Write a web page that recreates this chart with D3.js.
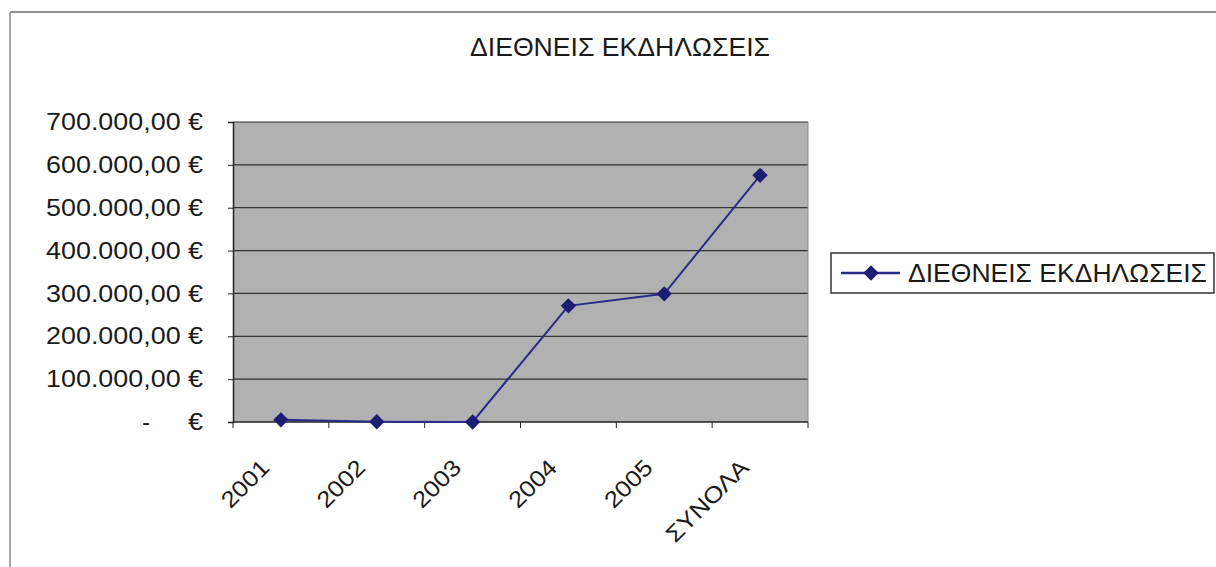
<!DOCTYPE html>
<html>
<head>
<meta charset="utf-8">
<script src="https://cdn.jsdelivr.net/npm/d3@7"></script>
<style>
  body { margin: 0; background: #fff; }
  svg { display: block; }
  text { font-family: "Liberation Sans", Arial, sans-serif; fill: #1a1a1a; }
</style>
</head>
<body>
<div id="chart"></div>
<script>
// data
var categories = ["2001", "2002", "2003", "2004", "2005", "ΣΥΝΟΛΑ"];
var values = [5000, 500, 0, 271000, 299000, 575500];
var yTicks = [0, 100000, 200000, 300000, 400000, 500000, 600000, 700000];
var seriesName = "ΔΙΕΘΝΕΙΣ ΕΚΔΗΛΩΣΕΙΣ";
var chartTitle = "ΔΙΕΘΝΕΙΣ ΕΚΔΗΛΩΣΕΙΣ";

var width = 1216, height = 567;
var plot = { left: 233, right: 808, top: 122, bottom: 422 };
var lineColor = "#2a2a8a", markerColor = "#1c1c72";

// scanned text looks a bit wider than plain Arial
var stretch = 1.12;
function widen(sel) {
    sel.each(function () {
        var len = this.getComputedTextLength();
        d3.select(this).attr("textLength", len * stretch).attr("lengthAdjust", "spacingAndGlyphs");
    });
}

var svg = d3.select("#chart").append("svg")
    .attr("width", width)
    .attr("height", height);

// outer chart frame (only top and left edges show)
svg.append("line").attr("x1", 10).attr("x2", width).attr("y1", 12).attr("y2", 12)
    .attr("stroke", "#6a6a6a").attr("stroke-width", 1.5);
svg.append("line").attr("x1", 10).attr("x2", 10).attr("y1", 12).attr("y2", height)
    .attr("stroke", "#8a8a8a").attr("stroke-width", 1.5);

var x = d3.scaleBand().domain(categories).range([plot.left, plot.right]);
var y = d3.scaleLinear().domain([0, 700000]).range([plot.bottom, plot.top]);

// grey plot area
svg.append("rect")
    .attr("x", plot.left).attr("y", plot.top)
    .attr("width", plot.right - plot.left).attr("height", plot.bottom - plot.top)
    .attr("fill", "#b1b1b1");

// horizontal gridlines
svg.append("g").selectAll("line").data(yTicks.slice(1)).enter().append("line")
    .attr("x1", plot.left).attr("x2", plot.right)
    .attr("y1", function (d) { return y(d); })
    .attr("y2", function (d) { return y(d); })
    .attr("stroke", "#333").attr("stroke-width", 1.2);

// right edge of plot
svg.append("line").attr("x1", plot.right).attr("x2", plot.right)
    .attr("y1", plot.top).attr("y2", plot.bottom)
    .attr("stroke", "#8c8c8c").attr("stroke-width", 1);

// y axis
var euro = d3.formatLocale({ decimal: ",", thousands: ".", grouping: [3], currency: ["", " €"] });
var fmt = euro.format("$,.2f");
var yAxis = svg.append("g")
    .attr("transform", "translate(" + plot.left + ",0)")
    .call(d3.axisLeft(y).tickValues(yTicks).tickSize(5).tickPadding(25)
        .tickFormat(function (d) { return d === 0 ? "" : fmt(d); }));
yAxis.select(".domain").attr("stroke", "#222").attr("stroke-width", 1.5);
yAxis.selectAll(".tick line").attr("stroke", "#222");
yAxis.selectAll(".tick text").style("font-size", "24px").attr("fill", "#1a1a1a").call(widen);
// accounting style zero: dash and euro sign apart
var zeroTick = yAxis.selectAll(".tick").filter(function (d) { return d === 0; });
zeroTick.append("text").attr("x", -30).attr("dy", "0.32em").attr("text-anchor", "end")
    .style("font-size", "24px").text("€").call(widen);
zeroTick.append("text").attr("x", -83).attr("dy", "0.32em").attr("text-anchor", "end")
    .style("font-size", "24px").text("-");

// x axis: ticks between categories
var xAxis = svg.append("g");
xAxis.append("line").attr("x1", plot.left).attr("x2", plot.right)
    .attr("y1", plot.bottom).attr("y2", plot.bottom)
    .attr("stroke", "#222").attr("stroke-width", 1.5);
var bounds = categories.map(function (c) { return x(c); }).concat([plot.right]);
xAxis.selectAll("line.tk").data(bounds).enter().append("line").attr("class", "tk")
    .attr("x1", function (d) { return d; }).attr("x2", function (d) { return d; })
    .attr("y1", plot.bottom).attr("y2", plot.bottom + 6)
    .attr("stroke", "#222");
xAxis.selectAll("text").data(categories).enter().append("text")
    .attr("transform", function (d) {
        return "translate(" + (x(d) + x.bandwidth() / 2 - 10) + "," + (plot.bottom + 47) + ") rotate(-45)";
    })
    .attr("text-anchor", "end")
    .style("font-size", "23px")
    .text(function (d) { return d; })
    .call(widen);

// series line and diamond markers
var pts = categories.map(function (c, i) { return [x(c) + x.bandwidth() / 2, y(values[i])]; });
svg.append("path")
    .attr("d", d3.line()(pts))
    .attr("fill", "none").attr("stroke", lineColor).attr("stroke-width", 2);
var diamond = d3.symbol().type(d3.symbolDiamond2).size(150);
svg.append("g").selectAll("path").data(pts).enter().append("path")
    .attr("transform", function (d) { return "translate(" + d[0] + "," + d[1] + ")"; })
    .attr("d", diamond)
    .attr("fill", markerColor);

// title
svg.append("text")
    .attr("x", 620).attr("y", 56)
    .attr("text-anchor", "middle")
    .attr("textLength", 300).attr("lengthAdjust", "spacingAndGlyphs")
    .style("font-size", "25px")
    .text(chartTitle);

// legend
var legend = svg.append("g").attr("transform", "translate(831,253)");
legend.append("rect").attr("width", 383).attr("height", 40)
    .attr("fill", "#fff").attr("stroke", "#333").attr("stroke-width", 1.5);
legend.append("line").attr("x1", 10).attr("x2", 69).attr("y1", 20).attr("y2", 20)
    .attr("stroke", lineColor).attr("stroke-width", 2.5);
legend.append("path").attr("transform", "translate(40,20)").attr("d", diamond).attr("fill", markerColor);
legend.append("text").attr("x", 77).attr("y", 20).attr("dy", "0.36em")
    .attr("textLength", 299).attr("lengthAdjust", "spacingAndGlyphs")
    .style("font-size", "25px")
    .text(seriesName);
</script>
</body>
</html>
